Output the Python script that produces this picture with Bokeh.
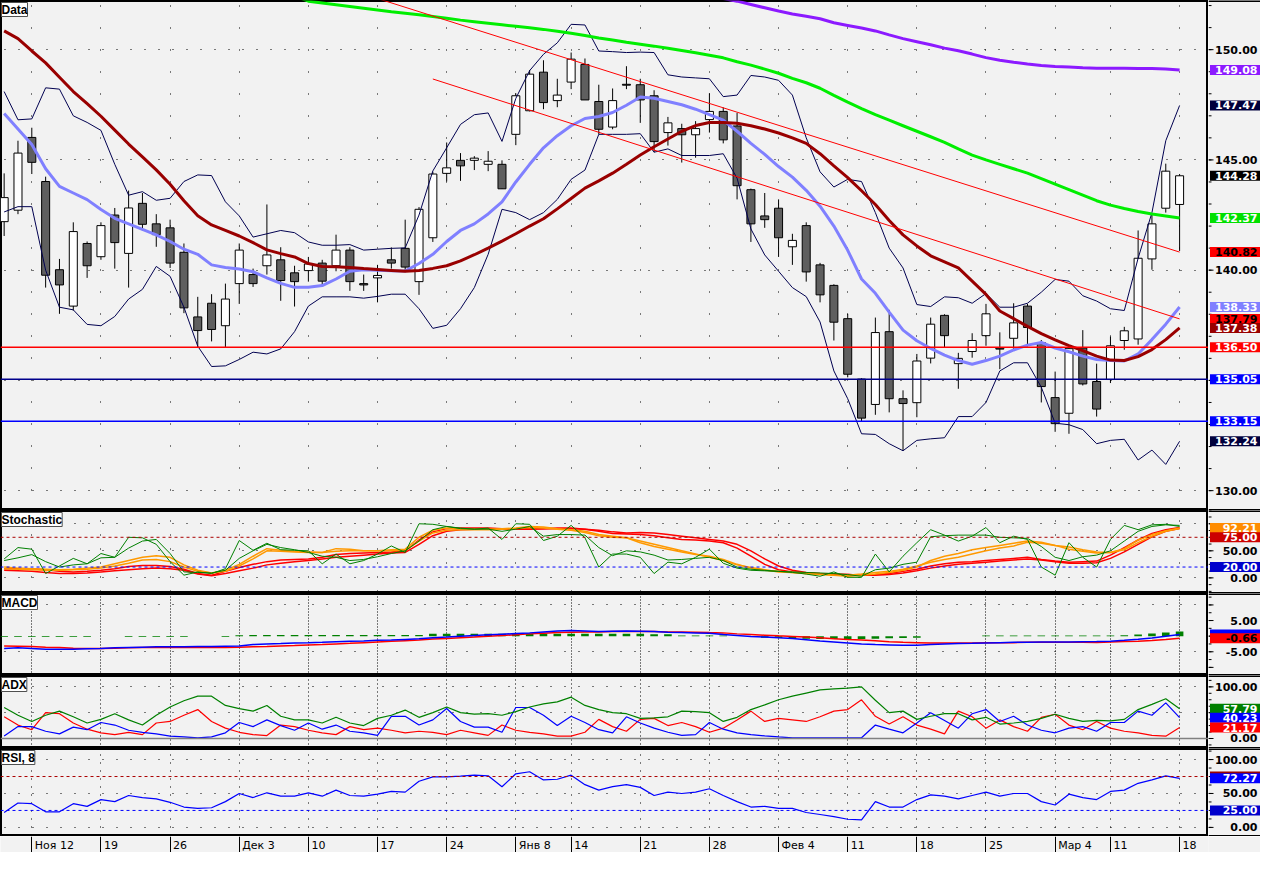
import math
from bokeh.plotting import figure
from bokeh.models import (ColumnDataSource, FixedTicker, Range1d, Label, Span, Grid)
from bokeh.layouts import column, row
from bokeh.embed import file_html
from bokeh.resources import INLINE
from bokeh.core.properties import value

NaN = float("nan")

# ---------------- data ----------------
week_ticks = [2, 7, 12, 17, 22, 27, 32, 37, 41, 46, 51, 56, 61, 66, 71, 76, 80, 85]
week_labels = ["Ноя 12", "19", "26", "Дек 3", "10", "17", "24", "Янв 8", "14", "21",
               "28", "Фев 4", "11", "18", "25", "Мар 4", "11", "18"]

open_ = [142.20, 142.72, 146.02, 144.02, 140.02, 138.37, 141.21, 140.61, 142.50, 140.76,
         143.03, 142.10, 141.92, 140.81, 137.88, 138.50, 137.48, 139.39, 139.80, 140.20,
         140.47, 139.88, 139.98, 140.32, 140.20, 140.91, 139.39, 139.65, 140.47, 140.99,
         139.48, 141.47, 144.39, 144.98, 144.98, 144.80, 144.80, 146.16, 147.23, 148.98,
         147.69, 148.53, 149.33, 147.65, 146.49, 148.43, 148.41, 147.91, 146.24, 146.42,
         146.14, 146.83, 147.20, 146.54, 143.65, 142.46, 142.81, 141.06, 142.02, 140.24,
         139.31, 137.80, 135.06, 133.91, 137.21, 134.17, 133.99, 136.01, 137.95, 135.76,
         136.31, 137.03, 136.46, 136.91, 138.37, 136.72, 134.22, 133.51, 136.47, 134.95,
         135.04, 136.81, 136.88, 140.51, 142.81, 142.98]
high = [144.39, 145.87, 146.46, 144.24, 140.51, 142.17, 141.30, 142.17, 142.82, 143.61,
        143.50, 142.54, 142.29, 141.21, 138.79, 138.91, 139.39, 141.21, 140.07, 142.98,
        141.04, 140.20, 140.60, 140.47, 141.61, 141.04, 139.80, 140.24, 141.03, 142.29,
        142.86, 144.46, 145.79, 145.31, 145.17, 145.40, 144.98, 148.02, 149.08, 149.52,
        148.68, 149.87, 149.60, 148.41, 148.24, 149.25, 148.68, 148.16, 146.95, 146.64,
        146.76, 148.02, 147.38, 147.13, 143.70, 143.50, 143.21, 141.65, 142.17, 140.33,
        139.36, 138.02, 135.10, 137.85, 138.20, 134.55, 136.20, 137.85, 138.00, 136.25,
        137.14, 138.47, 137.18, 138.50, 138.47, 136.83, 135.40, 136.51, 137.28, 135.76,
        136.99, 137.43, 141.80, 142.54, 144.83, 144.36]
low = [141.55, 142.54, 144.36, 139.21, 138.02, 138.17, 139.65, 140.47, 140.07, 139.21,
       141.80, 141.06, 140.10, 138.05, 136.50, 136.77, 136.50, 138.47, 139.24, 139.80,
       138.61, 138.35, 139.48, 139.28, 139.95, 139.06, 139.06, 138.54, 140.07, 139.98,
       138.88, 141.28, 144.02, 144.05, 144.54, 144.49, 143.69, 145.67, 147.20, 147.30,
       147.39, 148.21, 147.72, 146.16, 146.39, 148.21, 146.68, 145.35, 145.65, 144.88,
       145.10, 146.24, 145.75, 143.21, 141.28, 141.92, 140.60, 140.24, 139.48, 138.54,
       136.81, 135.14, 133.14, 133.44, 133.55, 131.81, 133.33, 135.77, 136.51, 134.62,
       136.03, 136.57, 135.51, 136.39, 136.54, 134.00, 132.67, 132.58, 134.77, 133.36,
       134.88, 136.39, 136.62, 140.02, 142.61, 140.87]
close = [143.29, 145.31, 144.89, 139.77, 139.33, 141.75, 140.20, 142.02, 141.25, 142.82,
         142.08, 141.61, 140.32, 138.29, 137.26, 137.31, 138.69, 140.91, 139.39, 140.69,
         139.53, 139.48, 140.28, 139.50, 140.91, 139.48, 139.33, 139.76, 140.32, 140.14,
         142.76, 144.36, 144.64, 144.73, 145.08, 144.94, 143.69, 147.91, 148.89, 147.60,
         147.94, 149.57, 147.72, 146.39, 147.69, 148.39, 147.72, 145.83, 146.68, 146.14,
         146.42, 147.20, 145.91, 143.83, 142.10, 142.29, 141.47, 141.35, 139.92, 138.88,
         137.64, 135.28, 133.29, 137.17, 134.17, 133.95, 135.88, 137.55, 137.03, 136.00,
         136.81, 138.02, 136.42, 137.61, 137.40, 134.72, 133.04, 136.44, 134.84, 133.70,
         136.57, 137.25, 140.54, 142.10, 144.49, 144.28]

ma_purple = [NaN] * 50 + [
    152.6, 152.45, 152.32, 152.2, 152.05, 151.9, 151.75, 151.62, 151.52, 151.4,
    151.22, 151.1, 150.98, 150.85, 150.67, 150.5, 150.36, 150.22, 150.07, 149.95,
    149.8, 149.64, 149.52, 149.43, 149.35, 149.28, 149.24, 149.21, 149.18, 149.16,
    149.16, 149.16, 149.15, 149.15, 149.12, 149.08]
ma_green = [NaN] * 20 + [
    152.7, 152.45, 152.2, 152.12, 152.04, 151.96, 151.88, 151.8, 151.72, 151.65,
    151.58, 151.5, 151.42, 151.34, 151.27, 151.2, 151.13, 151.06, 150.99, 150.92,
    150.84, 150.74, 150.64, 150.53, 150.44, 150.34, 150.25, 150.16, 150.06, 149.96,
    149.86, 149.75, 149.63, 149.45, 149.3, 149.12, 148.93, 148.7, 148.5, 148.25,
    147.93, 147.62, 147.33, 147.05, 146.8, 146.55, 146.3, 146.05, 145.8, 145.5,
    145.22, 145.0, 144.8, 144.6, 144.4, 144.15, 143.9, 143.65, 143.4, 143.15,
    142.95, 142.8, 142.66, 142.55, 142.46, 142.37]
ma_darkred = [150.85, 150.5, 149.94, 149.4, 148.75, 148.1, 147.55, 146.98, 146.35, 145.72,
              145.14, 144.55, 143.9, 143.15, 142.47, 142.05, 141.8, 141.55, 141.25, 140.92,
              140.75, 140.6, 140.3, 140.17, 140.15, 140.12, 140.07, 140.03, 139.99, 139.95,
              139.98, 140.08, 140.2, 140.42, 140.7, 141.0, 141.32, 141.65, 142.0, 142.33,
              142.78, 143.25, 143.72, 144.05, 144.4, 144.8, 145.22, 145.6, 145.95, 146.3,
              146.56, 146.7, 146.7, 146.66, 146.55, 146.4, 146.22, 146.0, 145.75, 145.28,
              144.73, 144.2, 143.6, 142.98, 142.25, 141.6, 141.1, 140.65, 140.38, 140.1,
              139.5, 138.9, 138.15, 137.8, 137.45, 137.12, 136.84, 136.58, 136.35, 136.1,
              135.92, 135.9, 136.08, 136.4, 136.85, 137.38]
ma_lightblue = [147.1, 146.4, 145.7, 144.6, 143.8, 143.5, 143.2, 142.75, 142.35, 142.1,
                141.85, 141.6, 141.3, 140.95, 140.72, 140.24, 140.12, 140.05, 139.93, 139.65,
                139.4, 139.22, 139.22, 139.3, 139.6, 139.95, 140.02, 140.0, 139.97, 139.96,
                140.3, 140.72, 141.3, 141.8, 142.1, 142.55, 143.1, 144.0, 144.8, 145.55,
                146.1, 146.55, 146.88, 146.97, 147.15, 147.48, 147.85, 147.8, 147.65, 147.5,
                147.3, 147.05, 146.8, 146.3, 145.75, 145.25, 144.7, 144.22, 143.62, 142.9,
                142.0, 140.9, 139.6, 138.95, 138.1, 137.28, 136.8, 136.45, 136.15, 135.9,
                135.73, 135.9, 136.1, 136.38, 136.6, 136.72, 136.47, 136.3, 136.1, 135.95,
                135.9, 135.88, 136.2, 136.85, 137.55, 138.33]
bb_upper = [148.1, 146.82, 146.86, 148.27, 148.21, 147.0, 146.7, 146.34, 144.8, 143.4,
            143.56, 143.17, 143.26, 144.02, 144.32, 144.29, 143.1, 142.46, 141.5, 141.65,
            141.8, 141.7, 141.28, 141.13, 141.13, 141.16, 140.91, 140.95, 140.99, 141.01,
            142.5, 144.5, 145.55, 146.61, 147.05, 147.13, 145.84, 147.79, 149.05, 149.79,
            150.31, 151.15, 151.12, 149.94, 149.91, 149.87, 149.89, 149.87, 148.86, 148.76,
            148.72, 148.68, 147.87, 147.94, 148.83, 148.76, 148.61, 147.94, 146.0, 144.46,
            143.77, 144.12, 144.02, 142.61, 141.0, 140.1, 138.44, 138.35, 138.79, 138.75,
            138.5, 138.94, 138.32, 138.32, 138.5, 139.0, 139.58, 139.5, 138.84, 138.6,
            138.25, 138.17, 140.54, 142.61, 145.87, 147.47]
bb_lower = [142.64, 142.88, 142.88, 140.0, 138.32, 138.2, 137.54, 137.48, 137.9, 138.69,
            139.13, 140.17, 139.72, 138.32, 136.55, 135.63, 135.66, 135.95, 136.28, 136.2,
            136.43, 137.21, 138.37, 138.79, 138.79, 138.79, 138.73, 138.81, 138.91, 138.91,
            138.25, 137.36, 137.5, 138.25, 139.21, 140.72, 142.76, 142.61, 142.29, 142.61,
            143.21, 144.12, 144.54, 146.16, 146.16, 146.16, 146.19, 145.35, 145.5, 145.2,
            145.2, 145.2, 145.28, 144.17, 141.87, 140.69, 139.95, 139.21, 138.8, 137.65,
            135.43, 134.17, 132.58, 132.55, 132.13, 131.81, 132.28, 132.35, 132.4, 133.36,
            133.36, 134.0, 135.43, 135.8, 135.8, 134.69, 133.06, 132.99, 132.77, 132.13,
            132.28, 132.33, 131.39, 131.84, 131.19, 132.24]

# two parallel trend lines (start bar, start price, end bar, end price)
trend_x0 = [27, 31]
trend_y0 = [152.32, 148.67]
trend_x1 = [85, 85]
trend_y1 = [140.82, 137.79]

# horizontal price levels
levels = [136.50, 135.05, 133.15]
level_colors = ["#ff0000", "#00008c", "#0000ff"]

# stochastic
stoch_green_a = [35, 56, 53, 8, 22, 36, 26, 45, 38, 75,
                 74, 62, 30, 5, 11, 8, 17, 69, 51, 64,
                 52, 51, 50, 26, 44, 26, 32, 44, 59, 47,
                 100, 99, 95, 91, 90, 92, 71, 100, 99, 69,
                 77, 97, 74, 20, 44, 44, 38, 8, 29, 26,
                 38, 53, 27, 18, 14, 13, 12, 10, 7, 3,
                 11, 1, 1, 44, 11, 40, 65, 89, 79, 68,
                 77, 93, 65, 77, 71, 20, 5, 65, 38, 20,
                 71, 97, 89, 98, 99, 95]
stoch_green_b = [32, 37, 43, 30, 20, 24, 26, 37, 38, 55,
                 68, 71, 45, 11, 10, 9, 14, 36, 50, 62,
                 56, 52, 47, 40, 38, 32, 34, 39, 45, 50,
                 68, 89, 95, 92, 90, 90, 86, 90, 95, 77,
                 80, 80, 79, 56, 41, 50, 48, 42, 33, 34,
                 36, 38, 32, 20, 16, 14, 12, 11, 10, 9,
                 8, 6, 3, 15, 18, 25, 29, 76, 78, 79,
                 79, 79, 75, 74, 73, 58, 38, 32, 39, 42,
                 50, 68, 86, 95, 98, 97]
stoch_red_a = [17, 17, 17, 15, 12, 11, 12, 14, 17, 21,
               23, 23, 21, 16, 8, 5, 12, 19, 25, 30,
               33, 34, 35, 38, 43, 45, 46, 47, 48, 50,
               70, 85, 91, 92, 92, 92, 91, 91, 91, 91,
               92, 92, 90, 86, 82, 81, 80, 78, 74, 71,
               70, 68, 65, 55, 40, 25, 15, 11, 9, 7,
               6, 6, 5, 6, 8, 12, 16, 22, 26, 29,
               30, 32, 34, 36, 38, 34, 31, 29, 30, 31,
               42, 56, 70, 82, 89, 93]
stoch_red_b = [14, 13, 12, 10, 8, 8, 9, 11, 13, 15,
               17, 18, 17, 14, 7, 4, 8, 13, 18, 24,
               27, 30, 32, 35, 38, 40, 42, 44, 46, 47,
               62, 78, 86, 89, 90, 91, 90, 90, 90, 91,
               91, 91, 90, 88, 85, 83, 84, 83, 80, 77,
               74, 71, 68, 62, 50, 35, 22, 14, 10, 8,
               7, 6, 5, 5, 6, 9, 13, 18, 22, 25,
               27, 29, 31, 33, 35, 33, 30, 27, 27, 28,
               36, 48, 62, 76, 86, 91]
stoch_orange_a = [20, 18, 17, 16, 15, 16, 18, 20, 26, 32,
                  38, 41, 38, 24, 14, 9, 14, 25, 40, 54,
                  51, 49, 48, 47, 54, 53, 50, 50, 52, 53,
                  75, 88, 92, 91, 90, 90, 91, 92, 95, 94,
                  91, 89, 86, 80, 77, 74, 65, 58, 53, 48,
                  43, 40, 34, 25, 18, 14, 12, 10, 8, 7,
                  5, 3, 5, 7, 10, 14, 20, 32, 40, 45,
                  52, 56, 60, 64, 68, 66, 60, 53, 49, 46,
                  47, 54, 70, 80, 87, 92.21]
stoch_orange_b = [17, 16, 15, 14, 14, 15, 16, 18, 22, 27,
                  33, 34, 30, 20, 12, 9, 12, 22, 35, 50,
                  49, 48, 47, 47, 49, 50, 50, 50, 50, 51,
                  68, 83, 88, 89, 89, 89, 90, 91, 93, 92,
                  90, 88, 84, 78, 75, 74, 68, 62, 56, 50,
                  44, 38, 32, 24, 19, 15, 11, 10, 8, 6,
                  5, 5, 7, 10, 12, 16, 22, 29, 34, 38,
                  44, 50, 55, 59, 66, 64, 60, 57, 52, 48,
                  47, 52, 65, 77, 86, 91]
stoch_levels = [75, 20]

# MACD
macd_line = [-3.95, -3.74, -3.95, -4.16, -4.16, -4.16, -4.05, -3.95, -3.74, -3.64,
             -3.54, -3.43, -3.43, -3.43, -3.33, -3.33, -3.22, -3.12, -2.7, -2.49,
             -2.39, -2.18, -2.08, -1.97, -1.76, -1.66, -1.56, -1.35, -1.24, -1.04,
             -0.83, -0.52, -0.31, 0.0, 0.21, 0.42, 0.63, 0.84, 1.05, 1.36,
             1.67, 1.78, 1.67, 1.46, 1.57, 1.67, 1.57, 1.46, 1.26, 1.15,
             1.05, 0.94, 0.52, 0.21, -0.1, -0.31, -0.52, -0.72, -1.14, -1.56,
             -1.87, -2.18, -2.49, -2.7, -2.8, -2.91, -2.91, -2.7, -2.49, -2.39,
             -2.29, -2.18, -2.08, -1.97, -1.97, -1.87, -1.87, -1.87, -1.8, -1.75,
             -1.6, -1.34, -1.03, -0.6, 0.0, 0.53]
macd_signal = [-3.12, -3.22, -3.33, -3.54, -3.64, -3.85, -3.95, -3.95, -3.85, -3.74,
               -3.64, -3.64, -3.64, -3.64, -3.64, -3.64, -3.64, -3.54, -3.43, -3.33,
               -3.12, -3.01, -2.8, -2.7, -2.49, -2.29, -2.08, -1.87, -1.66, -1.45,
               -1.24, -0.93, -0.72, -0.52, -0.31, 0.0, 0.21, 0.42, 0.73, 0.94,
               1.15, 1.26, 1.36, 1.36, 1.46, 1.46, 1.46, 1.46, 1.36, 1.36,
               1.26, 1.15, 1.05, 0.73, 0.52, 0.31, 0.1, -0.1, -0.31, -0.52,
               -0.83, -1.04, -1.24, -1.45, -1.76, -1.97, -2.08, -2.18, -2.18, -2.18,
               -2.18, -2.08, -2.08, -2.08, -1.97, -1.97, -1.97, -1.97, -1.97, -2.0,
               -1.9, -1.75, -1.6, -1.4, -1.1, -0.66]
macd_hist = [-0.3, -0.3, -0.3, -0.3, -0.3, -0.3, -0.3, 0, 0, -0.3,
             -0.3, -0.3, -0.3, -0.3, 0, 0, -0.3, 0.3, 0.4, 0.4,
             0.4, 0.4, 0.4, 0.4, 0.4, 0.4, 0.4, 0.4, 0.4, 0.4,
             0.4, 0.8, 0.8, 0.8, 0.8, 0.8, 0.8, 0.8, 0.8, 0.8,
             0.8, 0.8, 0.8, 0.8, 0.8, 0.8, 0.8, 0.6, 0.6, 0.2,
             0.2, 0.2, 0.2, 0, -0.3, -0.5, -0.6, -0.7, -0.8, -0.9,
             -0.9, -0.9, -0.9, -0.8, -0.7, -0.6, -0.5, 0, 0, 0,
             0, 0.2, 0.2, 0.2, 0.2, 0.2, 0.2, 0.2, 0.2, 0.2,
             0.2, 0.3, 0.52, 0.83, 1.15, 1.47]

# ADX
adx_line = [60, 45, 33, 45, 53, 42, 30, 37, 48, 36,
            26, 45, 61, 73, 82, 82, 64, 58, 53, 64,
            43, 36, 36, 30, 41, 30, 25, 39, 45, 55,
            41, 50, 61, 50, 47, 48, 45, 52, 61, 67,
            71, 80, 64, 56, 50, 48, 39, 40, 42, 53,
            52, 50, 33, 41, 56, 65, 75, 82, 88, 94,
            96, 97.5, 100, 74, 50, 53, 37, 43, 48, 48,
            36, 41, 28, 30, 33, 39, 47, 39, 33, 35,
            34, 37, 56, 66, 77, 57.79]
di_plus = [5, 23, 23, 14, 9, 22, 17, 31, 26, 16,
           12, 9, 4.5, 3, 1.3, 3, 11, 31, 23, 36,
           25, 16, 30, 18, 26, 14, 11, 6, 43, 43,
           26, 36, 58, 33, 22, 22, 12, 60, 60, 45,
           25, 43, 31, 17, 11, 42, 30, 20, 12, 6,
           7.5, 31, 18, 11, 7.5, 5, 3, 1.3, 1.3, 1.3,
           1.3, 1.3, 1.3, 26, 18, 11, 30, 50, 35, 20,
           48, 56, 33, 43, 26, 16, 11, 20, 23, 14,
           31, 31, 53, 45, 69, 40.23]
di_minus = [42, 26, 17, 50, 48, 30, 18, 11, 7.5, 12,
            7.5, 30, 33, 45, 56, 33, 20, 12, 7.5, 5.7,
            26, 23, 16, 11, 7.5, 23, 17, 20, 16, 11,
            14, 12, 7.5, 16, 11, 6, 26, 16, 12, 9,
            4.5, 4.5, 12, 37, 23, 14, 37, 39, 25, 31,
            23, 12, 20, 36, 53, 33, 39, 36, 33, 42,
            53, 56, 75, 43, 28, 42, 26, 18, 9, 53,
            42, 20, 36, 23, 14, 41, 47, 26, 17, 33,
            20, 14, 11, 6, 4.5, 21.17]

# RSI, 8
rsi = [22, 36, 35, 23, 23, 35, 31, 41, 38, 47,
       44, 42, 37, 30, 28, 29, 38, 50, 44, 51,
       46, 46, 51, 46, 55, 47, 46, 49, 53, 52,
       68, 74.5, 74.5, 75.5, 77, 76, 60, 79, 82, 70,
       71, 77, 63, 55, 60, 63, 59, 47, 52, 50,
       52, 57, 47, 38, 30, 31, 28, 28, 22, 19,
       16, 12, 11, 38, 30, 30, 41, 48, 46, 42,
       47, 52, 46, 50, 50, 38, 33, 49, 44, 41,
       53, 55, 65, 70, 76, 72.27]
rsi_levels = [75, 25]

N = len(close)
for _arr in (open_, high, low, ma_purple, ma_green, ma_darkred, ma_lightblue, bb_upper,
             bb_lower, stoch_green_a, stoch_green_b, stoch_red_a, stoch_red_b,
             stoch_orange_a, stoch_orange_b, macd_line, macd_signal, macd_hist,
             adx_line, di_plus, di_minus, rsi):
    assert len(_arr) == N, len(_arr)
idx = list(range(N))

# ---------------- layout helpers ----------------
W, AXW = 1208, 52
X0, X1 = -0.264, 87.09
BG = "#f2f2f2"
NUMFONT = "DejaVu Sans"
NUMSIZE = "11px"
SEP = 3
xr = Range1d(X0, X1)
PPB = W / (X1 - X0)
ROW_OFF = (14 - int(round(-X0 * PPB))) % 14
PX = 1.0 / AXW           # one pixel in strip x-units


def make_panel(h, y0, y1, title, major, labeled, minor, vstep=None, vdash="1 3", rows=()):
    yr = Range1d(y0, y1)
    p = figure(frame_width=W, frame_height=h, x_range=xr, y_range=yr,
               x_axis_location=None, y_axis_location=None,
               output_backend="svg", toolbar_location=None, min_border=0,
               background_fill_color=BG, border_fill_color=BG,
               outline_line_color="black", outline_line_width=SEP)
    p.grid.visible = False
    ppu = h / (y1 - y0)
    if vstep:
        step = max(2, int(round(vstep * ppu)))
        first = math.ceil(y0 / vstep) * vstep
        d = (first - y0) * ppu
        off = int(round(step - d)) % step
        dash = f"1 {step - 1}"
    else:
        dash, off = vdash, 0
    p.add_layout(Grid(dimension=0, ticker=FixedTicker(ticks=week_ticks),
                      grid_line_color="black", grid_line_width=1,
                      grid_line_dash=dash, grid_line_dash_offset=off))
    if rows:
        p.add_layout(Grid(dimension=1, ticker=FixedTicker(ticks=list(rows)),
                          grid_line_color="black", grid_line_width=1,
                          grid_line_dash="1 13", grid_line_dash_offset=ROW_OFF))
    p.add_layout(Label(x=X0, y=y1, text=title, text_baseline="top", text_align="left",
                       x_offset=1, y_offset=-2, text_font="Liberation Sans",
                       text_font_size="12px", text_font_style="bold", text_color="black",
                       background_fill_color="white", background_fill_alpha=1.0,
                       border_line_color="#505050", border_line_width=1, level="overlay"))

    # right-hand price strip (shares the y scale)
    s = figure(frame_width=AXW, frame_height=h, x_range=Range1d(0, 1), y_range=yr,
               x_axis_location=None, y_axis_location=None,
               output_backend="svg", toolbar_location=None, min_border=0,
               background_fill_color=BG, border_fill_color=BG, outline_line_color=None)
    s.grid.visible = False
    s.add_layout(Span(location=y1, dimension="width", line_color="black", line_width=SEP))
    s.add_layout(Span(location=y0, dimension="width", line_color="black", line_width=SEP))
    s.segment(x0=[0] * len(minor), y0=minor, x1=[3 * PX] * len(minor), y1=minor,
              line_color="black", line_width=1)
    s.segment(x0=[0] * len(major), y0=major, x1=[5 * PX] * len(major), y1=major,
              line_color="black", line_width=1)
    s.text(x=[1 - 3 * PX] * len(labeled), y=labeled, text=[f"{t:.2f}" for t in labeled],
           text_align="right", text_baseline="middle", text_color="black",
           text_font=value(NUMFONT), text_font_size=NUMSIZE, text_font_style=value("bold"))
    return p, s


def value_boxes(s, h, y0, y1, items):
    """items: (value, fill colour, text or None, text colour); boxes first, texts on top."""
    hh = 5.0 * (y1 - y0) / h
    for v, fill, _t, _c in items:
        s.quad(left=[1.5 * PX], right=[1.0], bottom=[v - hh], top=[v + hh],
               fill_color=fill, line_color=None)
    for v, _f, text, tcolor in items:
        if text:
            s.text(x=[1 - 3 * PX], y=[v], text=[text], text_align="right",
                   text_baseline="middle", text_color=tcolor, text_font=value(NUMFONT),
                   text_font_size=NUMSIZE, text_font_style=value("bold"))


def lab(v):
    return f"{v:.2f}"


# ---------------- main price panel ----------------
MH, MY0, MY1 = 510, 129.10, 152.23
pm, sm = make_panel(MH, MY0, MY1, "Data", [130, 135, 140, 145, 150], [130, 140, 145, 150],
                    list(range(129, 153)), vstep=1.0, rows=(130, 135, 140, 145, 150))

body_top = [max(o, c) for o, c in zip(open_, close)]
body_bot = [min(o, c) for o, c in zip(open_, close)]
body_col = ["white" if c >= o else "#5f5f5f" for o, c in zip(open_, close)]
csrc = ColumnDataSource(dict(x=idx, h=high, l=low, top=body_top, bot=body_bot, col=body_col))
pm.segment(x0="x", y0="l", x1="x", y1="h", source=csrc, line_color="black", line_width=1)
pm.vbar(x="x", width=0.58, top="top", bottom="bot", source=csrc, fill_color="col",
        line_color="black", line_width=1)

pm.line(idx, bb_upper, line_color="#000050", line_width=1)
pm.line(idx, bb_lower, line_color="#000050", line_width=1)
pm.line(idx, ma_lightblue, line_color="#8080ff", line_width=3)
pm.line(idx, ma_darkred, line_color="#990000", line_width=3)
pm.line(idx, ma_green, line_color="#00ee00", line_width=3)
pm.line(idx, ma_purple, line_color="#8c1aff", line_width=3)
pm.segment(x0=trend_x0, y0=trend_y0, x1=trend_x1, y1=trend_y1, line_color="#ff0000",
           line_width=1)
for lv, lc in zip(levels, level_colors):
    pm.add_layout(Span(location=lv, dimension="width", line_color=lc, line_width=1.5))

main_items = [(ma_purple[-1], "#8c1aff", "white"), (bb_upper[-1], "#00003c", "white"),
              (close[-1], "black", "white"), (ma_green[-1], "#00e000", "white"),
              (trend_y1[0], "#ff0000", "black"), (ma_lightblue[-1], "#8080ff", "white"),
              (trend_y1[1], "#ff0000", "black"), (ma_darkred[-1], "#990000", "white"),
              (levels[0], "#ff0000", "white"), (levels[1], "#0000ff", "white"),
              (levels[2], "#0000ff", "white"), (bb_lower[-1], "#00003c", "white")]
value_boxes(sm, MH, MY0, MY1, [(v, f, lab(v), c) for v, f, c in main_items])

# ---------------- stochastic ----------------
SH, SY0, SY1 = 83, -28.9, 124.5
ps, ss = make_panel(SH, SY0, SY1, "Stochastic", [0, 50, 100], [0, 50],
                    [-25 + 12.5 * k for k in range(13)], vstep=25, rows=(0, 50, 100))
ps.add_layout(Span(location=stoch_levels[0], dimension="width", line_color="#aa0000",
                   line_width=1, line_dash="3 3"))
ps.add_layout(Span(location=stoch_levels[1], dimension="width", line_color="#0000ff",
                   line_width=1, line_dash="3 3"))
ps.line(idx, stoch_red_b, line_color="#ff0000", line_width=1.5)
ps.line(idx, stoch_red_a, line_color="#ff0000", line_width=1.5)
ps.line(idx, stoch_orange_b, line_color="#ff9900", line_width=1.5)
ps.line(idx, stoch_orange_a, line_color="#ff9900", line_width=1.5)
ps.line(idx, stoch_green_b, line_color="#008000", line_width=1)
ps.line(idx, stoch_green_a, line_color="#008000", line_width=1)
value_boxes(ss, SH, SY0, SY1,
            [(stoch_orange_a[-1], "#ff8c00", lab(stoch_orange_a[-1]), "white"),
             (stoch_levels[0], "#cc0000", lab(stoch_levels[0]), "white"),
             (stoch_levels[1], "#0000cc", lab(stoch_levels[1]), "white")])

# ---------------- MACD ----------------
CH, CY0, CY1 = 82, -12.6, 13.66
pc, sc = make_panel(CH, CY0, CY1, "MACD", [-10, -5, 0, 5, 10], [-5, 5],
                    [-12.5 + 2.5 * k for k in range(11)], vstep=None, vdash="1 2",
                    rows=(10, -5))
pc.vbar(x=idx, width=0.55, top=macd_hist, bottom=0, fill_color="#008000", line_color=None)
pc.line(idx, macd_signal, line_color="#ff0000", line_width=1.5)
pc.line(idx, macd_line, line_color="#0000ff", line_width=1.5)
value_boxes(sc, CH, CY0, CY1,
            [(macd_line[-1], "#0000ff", None, "white"),
             (macd_signal[-1], "#ff0000", lab(macd_signal[-1]), "black")])

# ---------------- ADX ----------------
AH, AY0, AY1 = 73, -19.4, 122.0
pa, sa = make_panel(AH, AY0, AY1, "ADX", [0, 50, 100], [0, 100],
                    [-12.5 + 12.5 * k for k in range(11)], vstep=None, vdash="1 3",
                    rows=(50, 100))
pa.add_layout(Span(location=0, dimension="width", line_color="#808080", line_width=1.5))
pa.line(idx, di_minus, line_color="#ff0000", line_width=1.2)
pa.line(idx, di_plus, line_color="#0000ff", line_width=1.2)
pa.line(idx, adx_line, line_color="#008000", line_width=1.2)
value_boxes(sa, AH, AY0, AY1,
            [(adx_line[-1], "#008000", lab(adx_line[-1]), "white"),
             (di_plus[-1], "#0000ff", lab(di_plus[-1]), "white"),
             (di_minus[-1], "#ff0000", lab(di_minus[-1]), "white")])

# ---------------- RSI ----------------
RH, RY0, RY1 = 88, -13.4, 116.3
pr, sr = make_panel(RH, RY0, RY1, "RSI, 8", [0, 50, 100], [0, 50, 100],
                    [-12.5 + 12.5 * k for k in range(11)], vstep=12.5, rows=(0, 50, 100))
pr.add_layout(Span(location=rsi_levels[0], dimension="width", line_color="#aa0000",
                   line_width=1, line_dash="3 3"))
pr.add_layout(Span(location=rsi_levels[1], dimension="width", line_color="#0000ff",
                   line_width=1, line_dash="3 3"))
pr.line(idx, rsi, line_color="#0000ff", line_width=1.2)
value_boxes(sr, RH, RY0, RY1,
            [(rsi_levels[0], "#990000", None, "white"),
             (rsi[-1], "#0000ff", lab(rsi[-1]), "white"),
             (rsi_levels[1], "#0000cc", lab(rsi_levels[1]), "white")])

# ---------------- date axis strip ----------------
pd = figure(frame_width=W, frame_height=16, x_range=xr, y_range=Range1d(0, 1),
            x_axis_location=None, y_axis_location=None, output_backend="svg",
            toolbar_location=None, min_border=0, min_border_right=AXW,
            background_fill_color=BG, border_fill_color=BG, outline_line_color=None)
pd.grid.visible = False
pd.add_layout(Grid(dimension=0, ticker=FixedTicker(ticks=week_ticks),
                   grid_line_color="black", grid_line_width=1))
pd.text(x=week_ticks, y=[0.45] * len(week_ticks), text=week_labels, x_offset=3,
        text_align="left", text_baseline="middle", text_color="black",
        text_font=value("DejaVu Sans"), text_font_size="11px")

layout = column(row(pm, sm, spacing=0), row(ps, ss, spacing=0), row(pc, sc, spacing=0),
                row(pa, sa, spacing=0), row(pr, sr, spacing=0), pd, spacing=0)
open("out.html", "w").write(file_html(layout, INLINE, "Chart"))
